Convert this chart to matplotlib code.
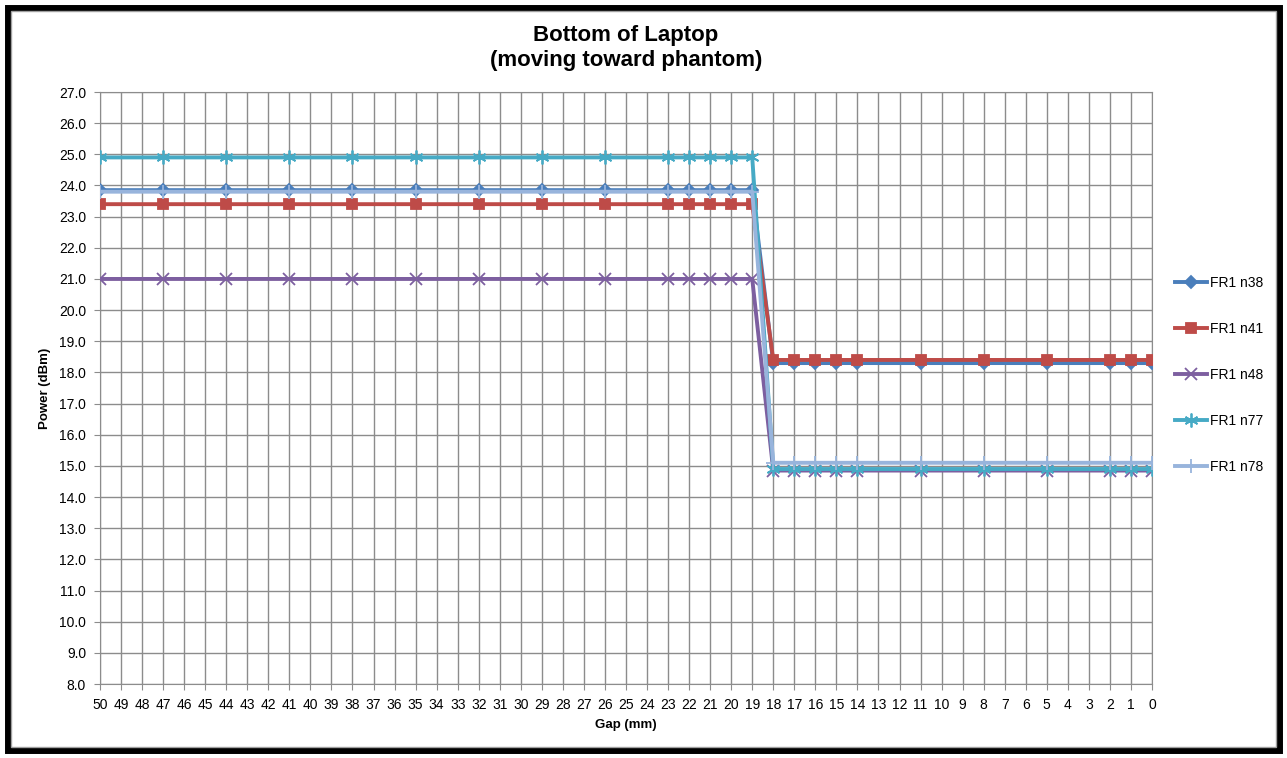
import numpy as np
import matplotlib
matplotlib.use('Agg')
import matplotlib.pyplot as plt
from matplotlib.patches import Rectangle

# Gap positions (mm) where power was measured
gaps = [50, 47, 44, 41, 38, 35, 32, 29, 26, 23, 22, 21, 20, 19,
        18, 17, 16, 15, 14, 11, 8, 5, 2, 1, 0]
n_far = 14   # points from 50 down to 19
n_near = 11  # points from 18 down to 0

n38 = [23.85] * n_far + [18.3] * n_near
n41 = [23.4] * n_far + [18.4] * n_near
n48 = [21.0] * n_far + [14.85] * n_near
n77 = [24.9] * n_far + [14.9] * n_near
n78 = [23.8] * n_far + [15.1] * n_near

series = [
    ("FR1 n38", n38, '#4A7EBB', 'D', 6),
    ("FR1 n41", n41, '#BE4B48', 's', 7.5),
    ("FR1 n48", n48, '#7D5FA0', 'x', 8),
    ("FR1 n77", n77, '#46AAC5', (6, 2, 0), 10),
    ("FR1 n78", n78, '#98B4DC', '+', 10),
]

plt.rcParams['font.family'] = ['Liberation Sans', 'DejaVu Sans']

fig = plt.figure(figsize=(12.87, 7.58), dpi=100)
ax = fig.add_axes([100 / 1287, 1 - 684 / 758, 1052 / 1287, 592 / 758])

for label, vals, color, marker, ms in series:
    ax.plot(gaps, vals, color=color, lw=2.8, marker=marker, ms=ms,
            mew=1.3, mec=color, label=label, zorder=3)

ax.set_xlim(50, 0)
ax.set_ylim(8, 27)
ax.set_xticks(range(50, -1, -1))
ax.set_xticklabels([str(g) for g in range(50, -1, -1)], fontsize=10)
ax.set_yticks(np.arange(8, 27.5, 1))
ax.set_yticklabels([f"{v:.1f}" for v in np.arange(8, 27.5, 1)], fontsize=10)
ax.grid(True, color='#8C8C8C', lw=1, zorder=0)
ax.tick_params(length=4, color='#8C8C8C', pad=6)
for s in ax.spines.values():
    s.set_color('#8C8C8C')

ax.set_xlabel('Gap (mm)', fontsize=9.5, fontweight='bold', labelpad=5)
ax.set_ylabel('Power (dBm)', fontsize=9.5, fontweight='bold', labelpad=6)
ax.set_title('Bottom of Laptop\n(moving toward phantom)', fontsize=16,
             fontweight='bold', pad=19, linespacing=1.2)

ax.legend(loc='upper left', bbox_to_anchor=(1.01, 0.71), frameon=False,
          fontsize=10, labelspacing=2.3, handlelength=2.3, handletextpad=0.2)

# Outer chart frame
fig.patches.append(Rectangle((8 / 1287, 8 / 758), 1271 / 1287, 742 / 758,
                             transform=fig.transFigure, fill=False,
                             ec='black', lw=5))
fig.patches.append(Rectangle((11 / 1287, 11 / 758), 1265 / 1287, 736 / 758,
                             transform=fig.transFigure, fill=False,
                             ec='#A0A0A0', lw=1))

fig.savefig('out.png', dpi=100)
